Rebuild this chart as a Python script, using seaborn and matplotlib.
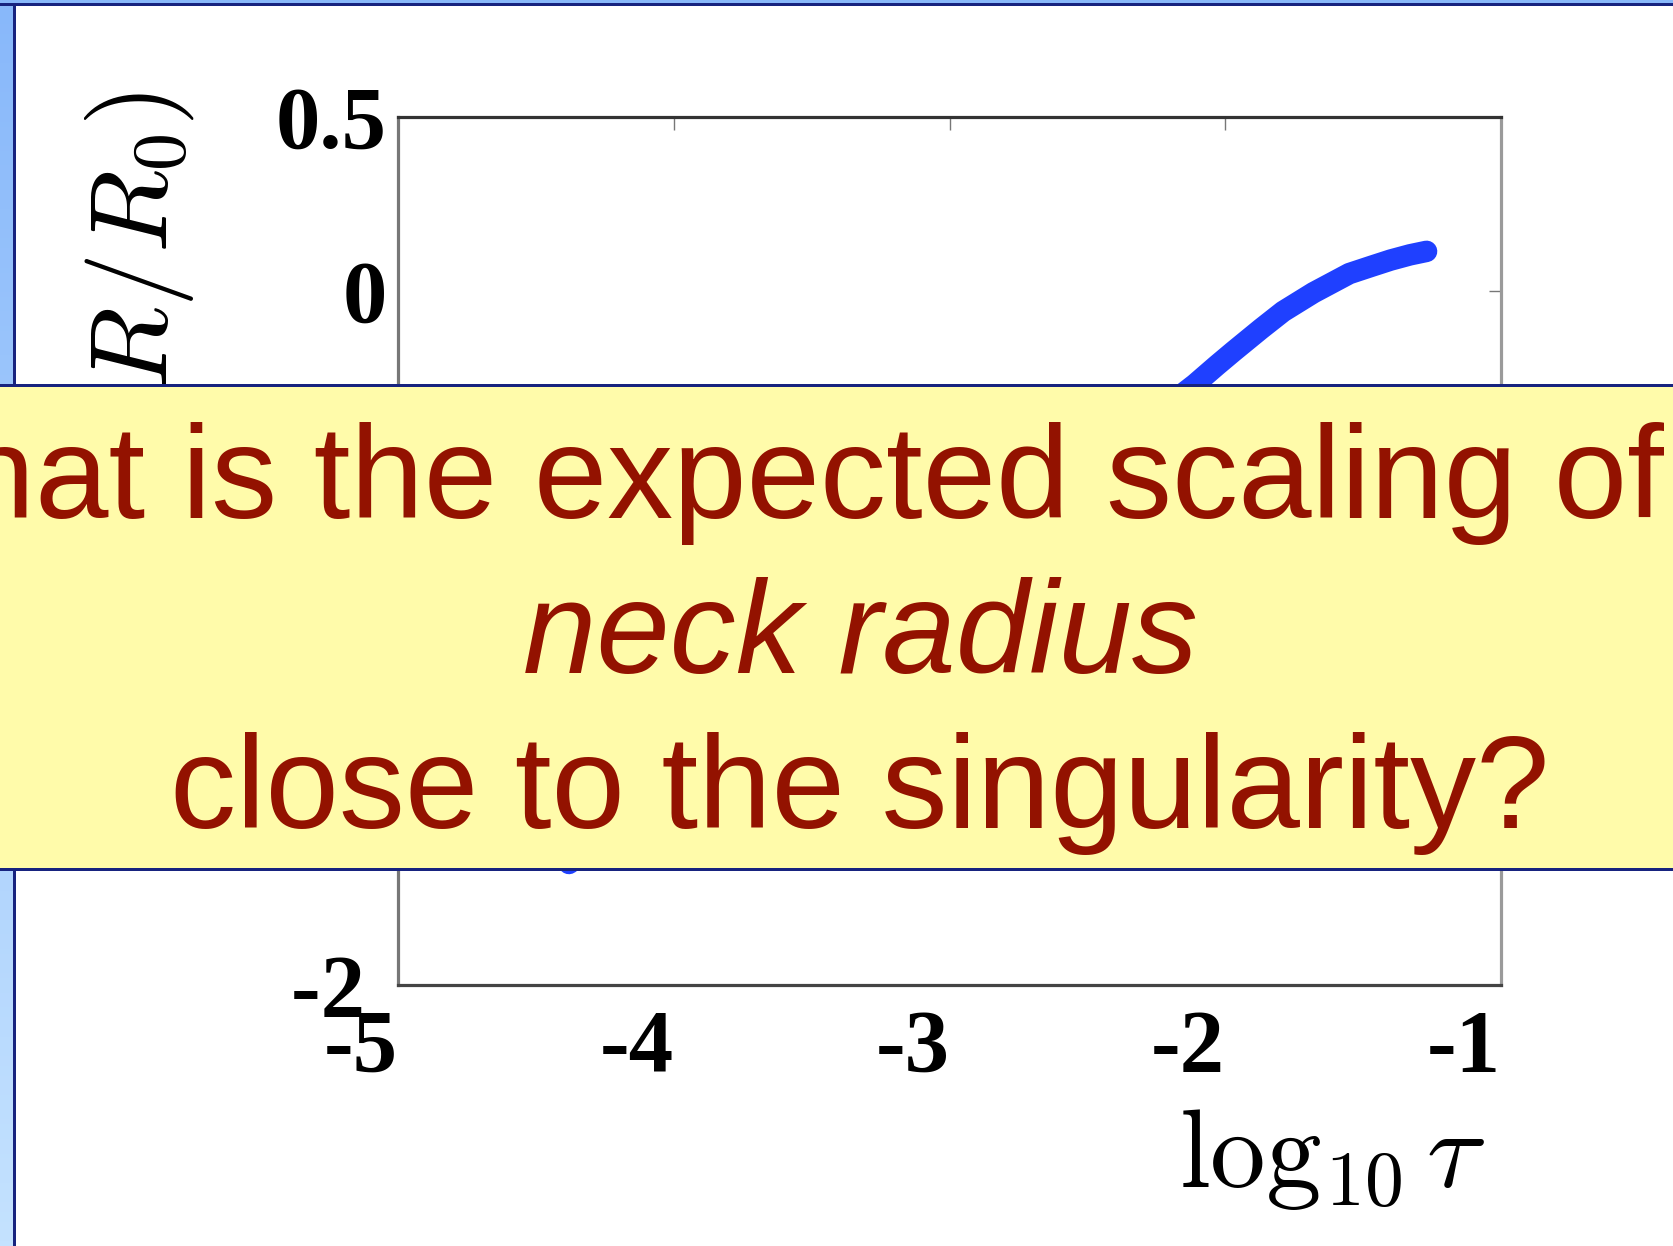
import numpy as np
import matplotlib
matplotlib.use("Agg")
import matplotlib.pyplot as plt
from matplotlib.patches import Rectangle
import seaborn as sns

# Neck radius data: log10 of time to singularity vs log10 of R/R0
log_tau = [-4.38, -4.0, -3.5, -3.0, -2.5, -2.11, -2.03, -1.97, -1.87, -1.79, -1.68,
           -1.55, -1.47, -1.40, -1.33, -1.27]
log_r = [-1.65, -1.43, -1.12, -0.82, -0.51, -0.27, -0.215, -0.175, -0.11, -0.06, -0.006,
         0.049, 0.070, 0.088, 0.103, 0.113]

x_ticks = [-5, -4, -3, -2, -1]
x_tick_labels = ["-5", "-4", "-3", "-2", "-1"]
y_ticks = [-2, -1.5, -1, -0.5, 0, 0.5]
y_tick_labels = ["-2 ", "-1.5", "-1", "-0.5", "0", "0.5"]

question_lines = ["What is the expected scaling of the", "neck radius", "close to the singularity?"]

sns.set_theme(style="white")
plt.rcParams["mathtext.fontset"] = "cm"

W, H = 1674, 1246
fig = plt.figure(figsize=(W / 100, H / 100), dpi=100)
fig.patch.set_facecolor("white")


def fx(px):
    return px / W


def fy(py):
    return 1 - py / H


ax = fig.add_axes([fx(398), fy(985), fx(1501) - fx(398), fy(117) - fy(985)])
ax.set_facecolor("white")

sns.lineplot(x=log_tau, y=log_r, ax=ax, color="#1f40ff", linewidth=15.5,
             solid_capstyle="round", solid_joinstyle="round", sort=True, estimator=None)

ax.set_xlim(-5, -1)
ax.set_ylim(-2, 0.5)
ax.set_xticks(x_ticks)
ax.set_yticks(y_ticks)
ax.set_xticklabels(x_tick_labels, fontfamily="Liberation Serif", fontweight="bold",
                   fontsize=64, ha="right")
ax.set_yticklabels(y_tick_labels, fontfamily="Liberation Serif", fontweight="bold",
                   fontsize=64)
ax.tick_params(axis="both", direction="in", length=9, width=1, colors="#777777",
               labelcolor="black", top=True, right=True)
ax.tick_params(axis="x", pad=17)
ax.tick_params(axis="y", pad=8)
ax.set_xlabel("")
ax.set_ylabel("")

spine_style = {"top": "#333333", "bottom": "#444444", "left": "#777777", "right": "#9a9a9a"}
for side, col in spine_style.items():
    ax.spines[side].set_visible(True)
    ax.spines[side].set_color(col)
    ax.spines[side].set_linewidth(2.3)

# Axis titles
fig.text(fx(1486), fy(1187), r"$\log_{10}\tau$", ha="right", va="baseline",
         fontsize=80, color="black")
fig.text(fx(139), fy(92), r"$\log_{10}(R/R_0)$", rotation=90, ha="center", va="top",
         fontsize=78, color="black")

# Slide frame: light-blue strips with navy rules on the top and left edges
grad_ax = fig.add_axes([0, 0, fx(13), 1])
grad = np.linspace(0, 1, 256).reshape(-1, 1)
top_col = np.array([0x88, 0xb8, 0xfa]) / 255
bot_col = np.array([0xc4, 0xe2, 0xff]) / 255
img = top_col * (1 - grad[..., None]) + bot_col * grad[..., None]
grad_ax.imshow(img, aspect="auto", extent=[0, 1, 0, 1])
grad_ax.set_axis_off()

fig.patches.append(Rectangle((fx(13), 0), fx(3), 1, transform=fig.transFigure,
                             facecolor="#17237f", edgecolor="none", zorder=5))
fig.patches.append(Rectangle((0, fy(3)), 1, 3 / H, transform=fig.transFigure,
                             facecolor="#88b8fa", edgecolor="none", zorder=5))
fig.patches.append(Rectangle((0, fy(6)), 1, 3 / H, transform=fig.transFigure,
                             facecolor="#17237f", edgecolor="none", zorder=5))

# Callout band with the question
fig.patches.append(Rectangle((0, fy(870)), 1, (870 - 385) / H, transform=fig.transFigure,
                             facecolor="#fffbaa", edgecolor="none", zorder=6))
fig.patches.append(Rectangle((0, fy(387)), 1, 3 / H, transform=fig.transFigure,
                             facecolor="#17237f", edgecolor="none", zorder=7))
fig.patches.append(Rectangle((0, fy(871)), 1, 3 / H, transform=fig.transFigure,
                             facecolor="#17237f", edgecolor="none", zorder=7))

text_kw = dict(ha="center", va="baseline", fontsize=95, color="#931200",
               fontfamily="Liberation Sans", zorder=8)
fig.text(fx(860), fy(518), question_lines[0], **text_kw)
fig.text(fx(860), fy(673), question_lines[1], style="italic", **text_kw)
fig.text(fx(860), fy(828), question_lines[2], **text_kw)

fig.savefig("out.png", dpi=100)
